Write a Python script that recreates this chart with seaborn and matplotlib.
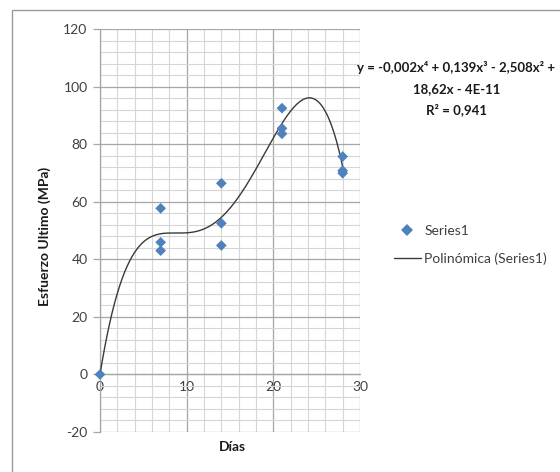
import numpy as np
import pandas as pd
import matplotlib
matplotlib.use("Agg")
import matplotlib.pyplot as plt
from matplotlib.patches import Rectangle
from matplotlib.ticker import MultipleLocator
from matplotlib.lines import Line2D
import seaborn as sns

# ---- data ----
dias = [0, 7, 7, 7, 14, 14, 14, 21, 21, 21, 28, 28, 28]
esfuerzo = [0, 57.7, 45.9, 43.0, 66.4, 52.5, 44.8, 92.5, 85.5, 83.6, 75.7, 70.8, 69.9]
equation_lines = ["y = -0,002x⁴ + 0,139x³ - 2,508x² +", "18,62x - 4E-11", "R² = 0,941"]
series_label = "Series1"
trend_label = "Polinómica (Series1)"
x_label = "Días"
y_label = "Esfuerzo Ultimo (MPa)"

df = pd.DataFrame({"dias": dias, "esfuerzo": esfuerzo})
coef = np.polyfit(df["dias"], df["esfuerzo"], 4)
xs = np.linspace(0, 28, 300)
trend = pd.DataFrame({"x": xs, "y": np.polyval(coef, xs)})

sns.set_theme(style="white")
plt.rcParams["font.family"] = ["Lato", "DejaVu Sans"]
plt.rcParams["axes.unicode_minus"] = False

W, H = 560, 472
fig = plt.figure(figsize=(W / 100, H / 100), dpi=100)
ax = fig.add_axes([100 / W, 1 - 432 / H, 260 / W, 403 / H])

blue = "#4F81BD"
sns.lineplot(data=trend, x="x", y="y", ax=ax, color="#3a3a3a", linewidth=1.0, zorder=3)
sns.scatterplot(data=df, x="dias", y="esfuerzo", ax=ax, marker="D", s=30,
                color=blue, edgecolor="none", zorder=4, clip_on=False)

ax.set_xlim(0, 30)
ax.set_ylim(-20, 120)
ax.xaxis.set_major_locator(MultipleLocator(10))
ax.xaxis.set_minor_locator(MultipleLocator(2))
ax.yaxis.set_major_locator(MultipleLocator(20))
ax.yaxis.set_minor_locator(MultipleLocator(4))
ax.grid(which="major", color="#a6a6a6", linewidth=0.9)
ax.grid(which="minor", color="#d6d6d6", linewidth=0.8)
ax.set_axisbelow(True)

for s in ["top", "right"]:
    ax.spines[s].set_visible(False)
ax.spines["bottom"].set_position(("data", 0))
ax.spines["bottom"].set_color("#a6a6a6")
ax.spines["bottom"].set_linewidth(0.9)
ax.spines["left"].set_color("#a6a6a6")
ax.spines["left"].set_linewidth(0.9)

ax.tick_params(axis="y", which="major", left=True, length=5, width=0.9, color="#a6a6a6",
               labelsize=10, labelcolor="#404040", pad=4)
ax.tick_params(axis="x", which="major", bottom=False, length=0, labelsize=10,
               labelcolor="#404040", pad=5)
ax.tick_params(which="minor", length=0)

ax.set_xlabel("")
ax.set_ylabel("")
fig.text(232 / W, 1 - 447 / H, x_label, ha="center", va="center", fontsize=10,
         fontweight="bold", color="#1a1a1a")
fig.text(45 / W, 1 - 236 / H, y_label, ha="center", va="center", rotation=90,
         fontsize=10, fontweight="bold", color="#1a1a1a")

# equation text
ys = [68, 89, 110]
xs_txt = [456, 457, 457]
for t, yy, xx in zip(equation_lines, ys, xs_txt):
    fig.text(xx / W, 1 - yy / H, t, ha="center", va="center", fontsize=9.5,
             fontweight="bold", color="#1a1a1a")

# legend
handles = [
    Line2D([], [], marker="D", linestyle="none", color=blue, markersize=6.5, markeredgewidth=0),
    Line2D([], [], color="#3a3a3a", linewidth=1.0),
]
leg = fig.legend(handles, [series_label, trend_label], loc="upper left",
                 bbox_to_anchor=(381 / W, 1 - 212 / H), frameon=False, fontsize=10,
                 handlelength=2.0, handletextpad=0.2, labelspacing=1.15)
for t in leg.get_texts():
    t.set_color("#404040")

# outer chart frame
fig.add_artist(Rectangle((12 / W, -0.2), 1.2, 1.2 - 10 / H, transform=fig.transFigure,
                         fill=False, edgecolor="#9a9a9a", linewidth=1.0))

fig.savefig("out.png", dpi=100)
